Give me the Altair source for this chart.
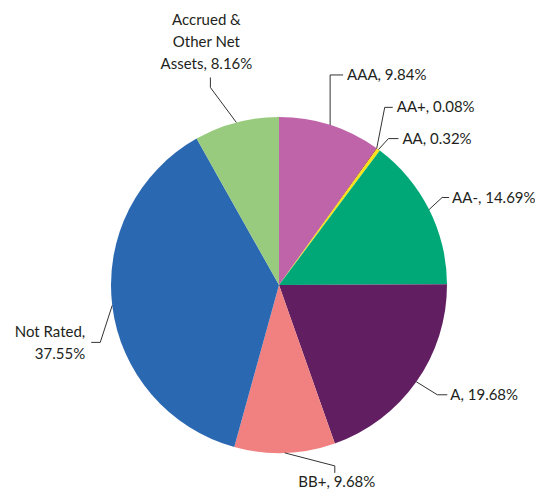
import math
import altair as alt
import pandas as pd

# ---- data ----
labels = ["AAA", "AA+", "AA", "AA-", "A", "BB+", "Not Rated", "Accrued & Other Net Assets"]
values = [9.84, 0.08, 0.32, 14.69, 19.68, 9.68, 37.55, 8.16]
label_lines = [
    ["AAA, 9.84%"],
    ["AA+, 0.08%"],
    ["AA, 0.32%"],
    ["AA-, 14.69%"],
    ["A, 19.68%"],
    ["BB+, 9.68%"],
    ["Not Rated,", "37.55%"],
    ["Accrued &", "Other Net", "Assets, 8.16%"],
]
colors = ["#BF64A8", "#A3282E", "#F7E31A", "#00A878", "#611F62", "#F18080", "#2B68B2", "#98CB7D"]

# ---- layout (image pixel coordinates) ----
W, H = 527, 481
CX, CY, R = 279, 285, 168
elbow = [(0, -50), (8, -41), (10, -11), (13, -12), (21, 13), (50, 13), (-12, 37), (-26, -35)]
tail = [(13, 0), (8, 0), (10, 0), (7, 0), (10, 0), (0, 7), (-9, 0), (0, -10)]
text_off = [(4, 0), (4, 0), (4, 0), (3, 0), (3, 0), (2, 9), (-6, -10), (-4, -57)]
aligns = ["left", "left", "left", "left", "left", "center", "right", "center"]
line_h = 22
FONT = "Lato"
FS = 15
TXT = "#231F20"

pie_df = pd.DataFrame({"label": labels, "value": values, "idx": range(len(labels))})

total = sum(values)
line_rows, text_rows = [], []
cum = 0.0
for i, (lab, v) in enumerate(zip(labels, values)):
    mid = (cum + v / 2) / total * 2 * math.pi
    cum += v
    ax = CX + R * math.sin(mid)
    ay = CY - R * math.cos(mid)
    ex, ey = ax + elbow[i][0], ay + elbow[i][1]
    tx, ty = ex + tail[i][0], ey + tail[i][1]
    for p, (px, py) in enumerate([(ax, ay), (ex, ey), (tx, ty)]):
        line_rows.append({"label": lab, "pt": p, "x": px, "y": py})
    for j, t in enumerate(label_lines[i]):
        text_rows.append({"x": tx + text_off[i][0], "y": ty + text_off[i][1] + j * line_h,
                          "txt": t, "align": aligns[i]})

line_df = pd.DataFrame(line_rows)
text_df = pd.DataFrame(text_rows)

xs = alt.Scale(domain=[8, 8 + W], range=[0, W])
ys = alt.Scale(domain=[8, 8 + H], range=[0, H])

pie = alt.Chart(pie_df).mark_arc(radius=R).encode(
    theta=alt.Theta("value:Q", stack=True),
    color=alt.Color("label:N", scale=alt.Scale(domain=labels, range=colors), legend=None),
    order=alt.Order("idx:Q"),
    x=alt.value(CX - 8),
    y=alt.value(CY - 8),
)

leaders = alt.Chart(line_df).mark_line(color="#333333", strokeWidth=1).encode(
    x=alt.X("x:Q", scale=xs, axis=None),
    y=alt.Y("y:Q", scale=ys, axis=None),
    detail="label:N",
    order="pt:Q",
)

layers = [pie, leaders]
for al in ["left", "center", "right"]:
    sub = text_df[text_df["align"] == al]
    layers.append(
        alt.Chart(sub).mark_text(align=al, baseline="middle", font=FONT, fontSize=FS, color=TXT).encode(
            x=alt.X("x:Q", scale=xs, axis=None),
            y=alt.Y("y:Q", scale=ys, axis=None),
            text="txt:N",
        )
    )

chart = alt.layer(*layers).properties(
    width=W, height=H, padding=0, autosize=alt.AutoSizeParams(type="none")
).configure_view(stroke=None)

chart.save("out.html", embed_options={"renderer": "svg", "actions": False})
